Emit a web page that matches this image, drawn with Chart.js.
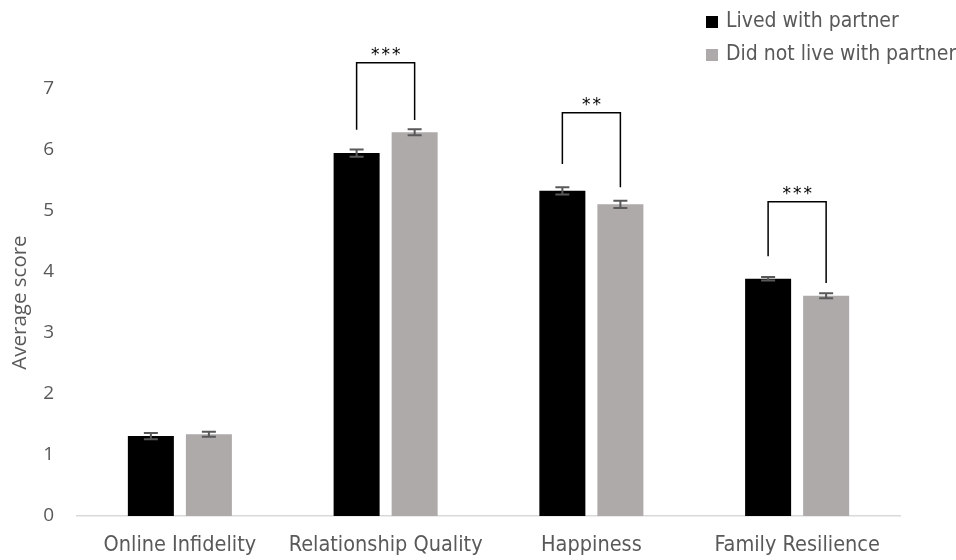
<!DOCTYPE html>
<html>
<head>
<meta charset="utf-8">
<script src="https://cdn.jsdelivr.net/npm/chart.js@4"></script>
<style>
  html, body { margin: 0; padding: 0; background: #fff; }
  #wrap { width: 956px; height: 560px; position: relative; }
</style>
</head>
<body>
<div id="wrap"><canvas id="scoreChart"></canvas></div>
<script>
const categories = ['Online Infidelity', 'Relationship Quality', 'Happiness', 'Family Resilience'];
const seriesNames = ['Lived with partner', 'Did not live with partner'];
const lived = [1.31, 5.95, 5.33, 3.89];
const notLived = [1.34, 6.29, 5.11, 3.61];
const livedErr = [0.05, 0.06, 0.06, 0.03];
const notLivedErr = [0.04, 0.05, 0.06, 0.04];
const yTicks = [0, 1, 2, 3, 4, 5, 6, 7];

// significance brackets (null = none)
const sigLabels = [null, '***', '**', '***'];
const bracketTop = [null, 7.43, 6.61, 5.15];
const legLived = [null, 6.33, 5.77, 4.26];
const legNotLived = [null, 6.49, 5.39, 3.82];

const TXT = '#595959';
const FONT = "'DejaVu Sans Condensed', 'DejaVu Sans', sans-serif";

const extras = {
  id: 'extras',
  afterDatasetsDraw(chart) {
    const ctx = chart.ctx;
    const y = chart.scales.y;
    const errs = [livedErr, notLivedErr];
    ctx.save();
    // error bars
    ctx.strokeStyle = '#595959';
    ctx.lineWidth = 2;
    chart.data.datasets.forEach((ds, di) => {
      chart.getDatasetMeta(di).data.forEach((bar, i) => {
        const hi = y.getPixelForValue(ds.data[i] + errs[di][i]);
        const lo = y.getPixelForValue(ds.data[i] - errs[di][i]);
        ctx.beginPath();
        ctx.moveTo(bar.x, hi); ctx.lineTo(bar.x, lo);
        ctx.moveTo(bar.x - 7, hi); ctx.lineTo(bar.x + 7, hi);
        ctx.moveTo(bar.x - 7, lo); ctx.lineTo(bar.x + 7, lo);
        ctx.stroke();
      });
    });
    // brackets
    const m0 = chart.getDatasetMeta(0).data;
    const m1 = chart.getDatasetMeta(1).data;
    ctx.strokeStyle = '#000';
    ctx.lineWidth = 1.5;
    ctx.fillStyle = '#000';
    ctx.font = "17px 'DejaVu Sans', sans-serif";
    ctx.letterSpacing = '2px';
    ctx.textAlign = 'center';
    ctx.textBaseline = 'alphabetic';
    sigLabels.forEach((lab, i) => {
      if (!lab) return;
      const x0 = m0[i].x, x1 = m1[i].x;
      const top = y.getPixelForValue(bracketTop[i]);
      ctx.beginPath();
      ctx.moveTo(x0, y.getPixelForValue(legLived[i]));
      ctx.lineTo(x0, top);
      ctx.lineTo(x1, top);
      ctx.lineTo(x1, y.getPixelForValue(legNotLived[i]));
      ctx.stroke();
      ctx.fillText(lab, (x0 + x1) / 2 + 1, top - 3);
    });
    ctx.restore();
  },
  afterDraw(chart) {
    const ctx = chart.ctx;
    ctx.save();
    ctx.font = '21px ' + FONT;
    ctx.textAlign = 'left';
    ctx.textBaseline = 'middle';
    chart.data.datasets.forEach((ds, di) => {
      const cy = 22 + di * 33;
      ctx.fillStyle = ds.backgroundColor;
      ctx.fillRect(706, cy - 6, 12, 12);
      ctx.fillStyle = TXT;
      ctx.fillText(ds.label, 726, cy);
    });
    ctx.restore();
  }
};

new Chart(document.getElementById('scoreChart'), {
  type: 'bar',
  data: {
    labels: categories,
    datasets: [
      { label: seriesNames[0], data: lived, backgroundColor: '#000000' },
      { label: seriesNames[1], data: notLived, backgroundColor: '#AEAAAA' }
    ]
  },
  options: {
    responsive: true,
    maintainAspectRatio: false,
    animation: false,
    datasets: { bar: { categoryPercentage: 0.564, barPercentage: 0.793 } },
    layout: { padding: { top: 89, right: 56, bottom: 0, left: 0 } },
    plugins: { legend: { display: false }, tooltip: { enabled: false } },
    scales: {
      x: {
        grid: { display: false, drawTicks: false },
        border: { color: '#D9D9D9', width: 1.5 },
        ticks: { color: TXT, font: { family: FONT, size: 21.5 }, padding: 17, maxRotation: 0, autoSkip: false },
        afterFit: s => { s.height = 44; }
      },
      y: {
        min: 0, max: 7,
        afterBuildTicks: s => { s.ticks = yTicks.map(v => ({ value: v })); },
        grid: { display: false, drawTicks: false },
        border: { display: false },
        ticks: { color: TXT, font: { family: "'Open Sans', sans-serif", size: 19 }, padding: 23 },
        title: { display: true, text: 'Average score', color: TXT, font: { family: "'Open Sans', sans-serif", size: 20.5 }, padding: { top: 8, bottom: 0 } },
        afterFit: s => { s.width = 77; }
      }
    }
  },
  plugins: [extras]
});
</script>
</body>
</html>
